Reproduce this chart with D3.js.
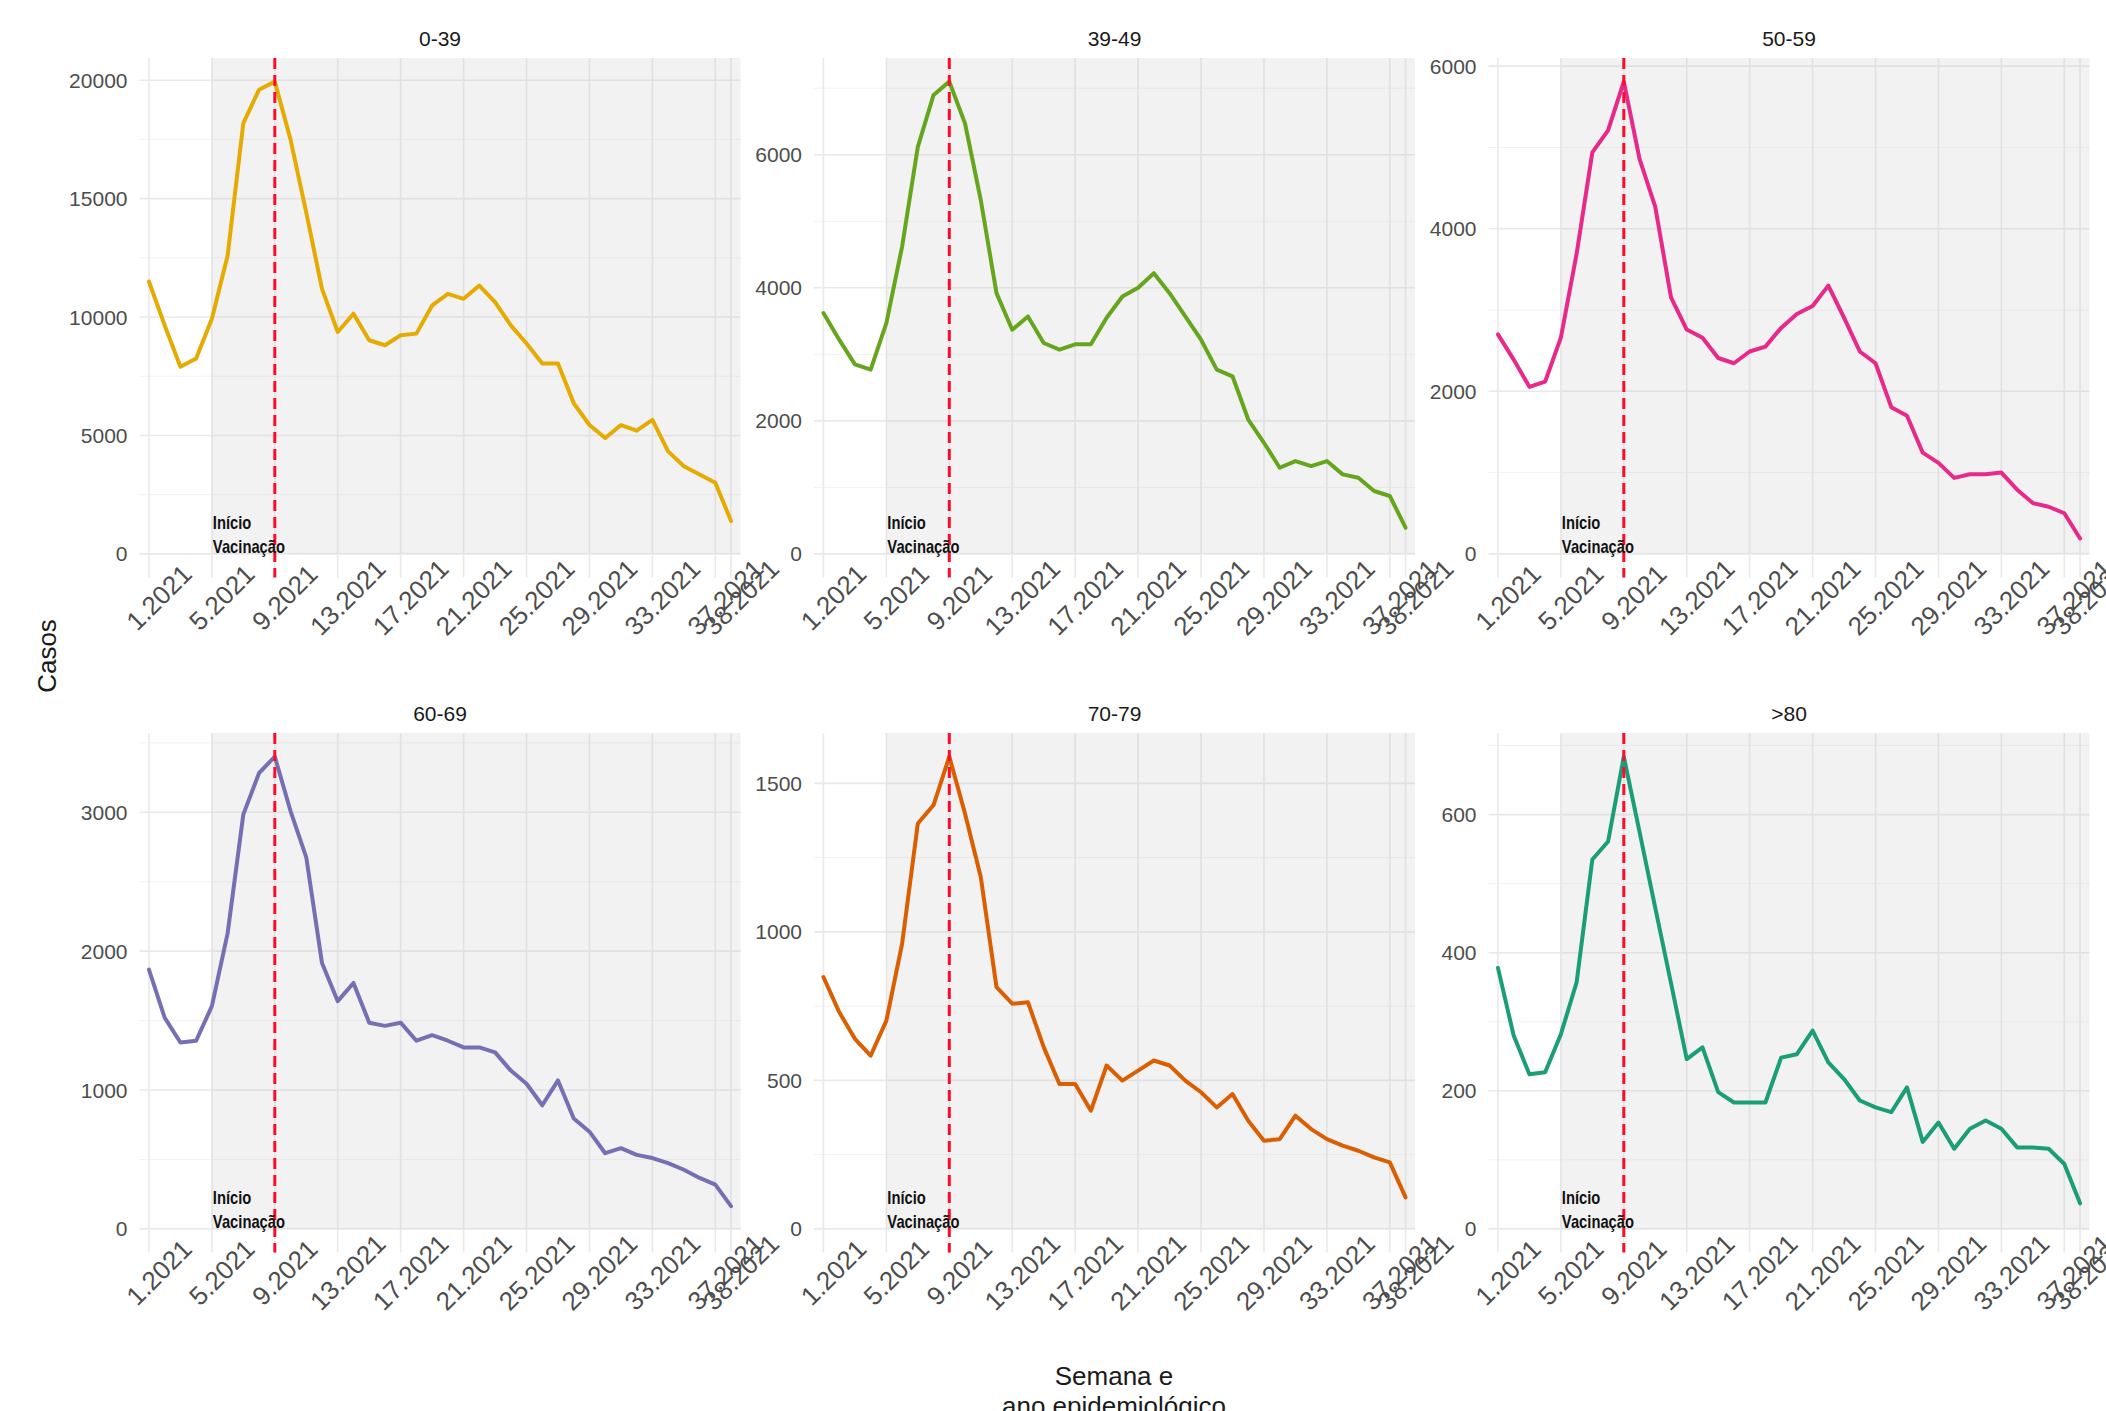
<!DOCTYPE html>
<html><head><meta charset="utf-8">
<script src="https://cdn.jsdelivr.net/npm/d3@7"></script>
<style>
body{margin:0;background:#fff}
svg{display:block}
text{font-family:"Liberation Sans",Arial,Helvetica,sans-serif}
</style>
</head><body>
<svg id="chart" width="2106" height="1411"></svg>
<script>
// ---------- data ----------
const weeks = [1,2,3,4,5,6,7,8,9,10,11,12,13,14,15,16,17,18,19,20,21,22,23,24,25,26,27,28,29,30,31,32,33,34,35,36,37,38];
const ageGroups = ["0-39","39-49","50-59","60-69","70-79",">80"];
const lineColors = ["#E6AB02","#66A61E","#E7298A","#7570B3","#D95F02","#1B9E77"];

const cases0_39  = [11500,9650,7900,8250,9930,12590,18190,19600,19940,17490,14410,11190,9370,10140,9020,8810,9230,9300,10490,10980,10770,11330,10630,9650,8880,8040,8040,6360,5440,4890,5440,5200,5660,4330,3700,3350,3000,1390];
const cases39_49 = [3620,3220,2850,2770,3470,4620,6120,6900,7100,6470,5320,3920,3370,3570,3170,3070,3150,3150,3550,3870,4000,4220,3920,3570,3220,2770,2670,2020,1670,1295,1395,1320,1395,1195,1145,945,870,395];
const cases50_59 = [2700,2390,2055,2120,2660,3690,4940,5210,5810,4860,4270,3155,2760,2660,2410,2345,2490,2550,2780,2950,3050,3300,2905,2490,2345,1805,1700,1245,1120,935,980,980,1000,790,625,580,500,190];
const cases60_69 = [1867,1521,1342,1355,1604,2128,2985,3283,3401,3009,2676,1914,1640,1771,1485,1462,1485,1355,1395,1355,1307,1307,1271,1140,1045,890,1069,795,700,545,581,533,510,474,426,367,319,164];
const cases70_79 = [848,730,640,583,701,960,1365,1427,1590,1398,1185,814,758,763,612,488,488,398,550,499,533,567,550,499,460,409,454,364,297,302,381,336,302,280,263,241,224,106];
const cases80   = [378,280,224,227,282,357,535,561,684,575,465,356,246,263,198,183,183,183,248,253,287,241,217,186,176,169,205,126,154,116,145,157,145,118,118,116,94,37];

const yTicks0_39  = [0,5000,10000,15000,20000];
const yTicks39_49 = [0,2000,4000,6000];
const yTicks50_59 = [0,2000,4000,6000];
const yTicks60_69 = [0,1000,2000,3000];
const yTicks70_79 = [0,500,1000,1500];
const yTicks80    = [0,200,400,600];

const xTickWeeks = [1,5,9,13,17,21,25,29,33,37,38];
const xTickSuffix = ".2021";
const vaccineWeek = 9;
const shadeStartWeek = 5;
const annotationLines = ["Início","Vacinação"];
const yTitle = "Casos";
const xTitleLines = ["Semana e","ano epidemiológico"];

// ---------- layout ----------
const series = [cases0_39,cases39_49,cases50_59,cases60_69,cases70_79,cases80];
const yTicksAll = [yTicks0_39,yTicks39_49,yTicks50_59,yTicks60_69,yTicks70_79,yTicks80];
const colLeft = [139.5, 814, 1488.5];
const panelW = 601;
const rowTop = [58, 733];
const panelH = 519.5;

const svg = d3.select("#chart");

series.forEach((vals, i) => {
  const col = i % 3, row = Math.floor(i / 3);
  const left = colLeft[col], right = left + panelW;
  const top = rowTop[row], bottom = top + panelH;
  const maxV = d3.max(vals);
  const x = d3.scalePoint().domain(weeks).range([left, right]).padding(0.6);
  const y = d3.scaleLinear().domain([-0.05 * maxV, 1.05 * maxV]).range([bottom, top]);
  const ticks = yTicksAll[i];
  const g = svg.append("g");

  // minor gridlines
  const step = ticks[1] - ticks[0];
  const minors = [];
  for (let k = 0; k < ticks.length; k++) {
    const m = ticks[k] + step / 2;
    if (m <= y.domain()[1]) minors.push(m);
  }
  g.selectAll(".minor").data(minors).join("line")
    .attr("x1", left).attr("x2", right)
    .attr("y1", d => y(d)).attr("y2", d => y(d))
    .attr("stroke", "#f2f2f2").attr("stroke-width", 1);
  // major gridlines
  g.selectAll(".hmaj").data(ticks).join("line")
    .attr("x1", left).attr("x2", right)
    .attr("y1", d => y(d)).attr("y2", d => y(d))
    .attr("stroke", "#e9e9e9").attr("stroke-width", 1.6);
  g.selectAll(".vmaj").data(xTickWeeks).join("line")
    .attr("x1", d => x(d)).attr("x2", d => x(d))
    .attr("y1", top).attr("y2", bottom)
    .attr("stroke", "#e9e9e9").attr("stroke-width", 1.6);

  // shaded period
  g.append("rect")
    .attr("x", x(shadeStartWeek)).attr("y", top)
    .attr("width", right - x(shadeStartWeek))
    .attr("height", y(0) - top)
    .attr("fill", "rgb(195,195,195)").attr("fill-opacity", 0.22);

  // data line
  const line = d3.line().x((d, k) => x(weeks[k])).y(d => y(d));
  g.append("path").datum(vals)
    .attr("d", line)
    .attr("fill", "none")
    .attr("stroke", lineColors[i])
    .attr("stroke-width", 4)
    .attr("stroke-linejoin", "round")
    .attr("stroke-linecap", "round");

  // vaccination start line
  g.append("line")
    .attr("x1", x(vaccineWeek)).attr("x2", x(vaccineWeek))
    .attr("y1", top).attr("y2", bottom)
    .attr("stroke", "#ff0a2a").attr("stroke-width", 3)
    .attr("stroke-dasharray", "11,6");

  // annotation
  annotationLines.forEach((t, k) => {
    g.append("text")
      .attr("transform", `translate(${x(shadeStartWeek) + 1},${y(0) - 1 - (annotationLines.length - 1 - k) * 24}) scale(0.82,1)`)
      .attr("font-size", 18).attr("font-weight", "bold")
      .attr("fill", "#111")
      .text(t);
  });

  // y tick labels
  g.selectAll(".ylab").data(ticks).join("text")
    .attr("x", left - 12).attr("y", d => y(d))
    .attr("text-anchor", "end").attr("dominant-baseline", "central")
    .attr("font-size", 21).attr("fill", "#4d4d4d")
    .text(d => d);

  // x tick labels
  g.selectAll(".xlab").data(xTickWeeks).join("text")
    .attr("transform", d => `translate(${x(d) + 10},${bottom + 20}) rotate(-45)`)
    .attr("text-anchor", "middle").attr("dominant-baseline", "central")
    .attr("font-size", 26).attr("fill", "#4d4d4d")
    .text(d => d + xTickSuffix);

  // strip title
  g.append("text")
    .attr("x", (left + right) / 2).attr("y", top - 20)
    .attr("text-anchor", "middle").attr("dominant-baseline", "central")
    .attr("font-size", 21).attr("fill", "#1a1a1a")
    .text(ageGroups[i]);
});

// axis titles
svg.append("text")
  .attr("transform", "translate(47,656) rotate(-90)")
  .attr("text-anchor", "middle").attr("dominant-baseline", "central")
  .attr("font-size", 26).attr("fill", "#1a1a1a")
  .text(yTitle);
xTitleLines.forEach((t, k) => {
  svg.append("text")
    .attr("x", 1114).attr("y", 1385 + k * 30)
    .attr("text-anchor", "middle")
    .attr("font-size", 26).attr("fill", "#1a1a1a")
    .text(t);
});
</script>
</body></html>
